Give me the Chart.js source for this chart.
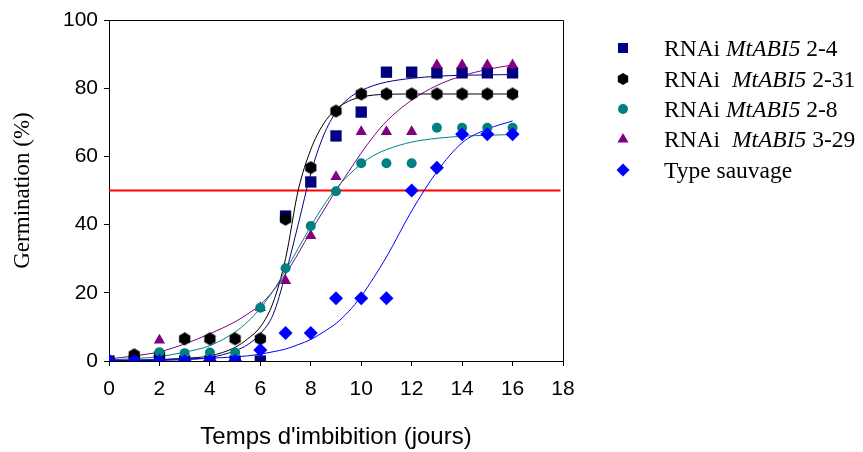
<!DOCTYPE html>
<html lang="fr">
<head>
    <meta charset="UTF-8">
    <title>Germination RNAi MtABI5</title>
    <script src="https://cdn.jsdelivr.net/npm/chart.js"></script>
    <style>
        body { margin: 0; background: #fff; }
        #wrap { position: relative; width: 863px; height: 452px; }
        #legend {
            position: absolute; left: 610px; top: 0;
            font-family: "Times New Roman", "Liberation Serif", serif;
            font-size: 23.5px; color: #000;
        }
        .row { position: absolute; left: 0; height: 30px; line-height: 30px; white-space: pre; }
        .row svg { position: absolute; left: 5px; top: 7px; }
        .row span.t { position: absolute; left: 54px; top: 0; }
    </style>
</head>
<body>
<div id="wrap">
    <canvas id="chart" width="863" height="452"></canvas>
    <div id="legend"></div>
</div>

<script>
    // measured points (days 0..16)
    const days = [0, 1, 2, 3, 4, 5, 6, 7, 8, 9, 10, 11, 12, 13, 14, 15, 16];
    const rnai24  = [0, 0, 0, 0, 0, 0, 0, 42.5, 52.5, 66, 73, 84.7, 84.7, 84.5, 84.5, 84.5, 84.5];
    const rnai231 = [0, 1.8, 1.8, 6.5, 6.5, 6.5, 6.5, 41.6, 56.7, 73.3, 78.3, 78.3, 78.3, 78.3, 78.3, 78.3, 78.3];
    const rnai28  = [0, 0, 2.6, 2.3, 2.5, 2.5, 15.6, 27.2, 39.6, 49.8, 58, 58, 58, 68.4, 68.4, 68.4, 68.4];
    const rnai329 = [0, 0, 6.1, 6.5, 6.5, 6.5, 15.6, 23.5, 36.7, 54, 67.2, 67.2, 67.2, 86.8, 86.8, 86.8, 86.8];
    const wildType = [0, 0, 0, 0, 0, 0, 3.2, 8.2, 8.2, 18.4, 18.4, 18.4, 50, 56.7, 66.5, 66.5, 66.5];

    // fitted sigmoid curves
    const fitX    = [0, 1, 2, 3, 4, 5, 5.5, 6, 6.5, 7, 7.5, 8, 8.5, 9, 9.5, 10, 10.5, 11, 12, 13, 14, 15, 16];
    const fit24   = [0.1, 0.1, 0.2, 0.4, 1, 3, 4.8, 8, 13.5, 25.5, 40, 55, 66, 73, 77, 79.3, 80.8, 81.8, 82.9, 83.5, 83.8, 83.9, 84];
    const fit231  = [0.1, 0.2, 0.4, 0.8, 1.5, 4, 6.5, 10, 17, 30, 50, 62, 69.5, 73.8, 76.2, 77.4, 78, 78.2, 78.3, 78.3, 78.3, 78.3, 78.3];
    const fit28   = [0.3, 0.7, 1.3, 2.6, 4.5, 8.5, 11.5, 15.5, 20.5, 26.5, 33, 39.5, 45.5, 50.5, 54.5, 57.8, 60.3, 62, 64.2, 65.3, 65.9, 66.2, 66.4];
    const fit329  = [0.6, 1.5, 2.7, 5, 8, 11.5, 13.8, 16.5, 20.5, 25.5, 31.5, 38, 44, 50, 55.5, 61, 66, 70.3, 76.5, 80.8, 83.6, 85.5, 86.8];
    const fitWild = [0.2, 0.3, 0.4, 0.6, 0.8, 1.2, 1.5, 2, 2.7, 3.5, 4.8, 6.3, 8.5, 11, 14.5, 19, 24.5, 30.5, 44, 55.5, 64, 68, 70.4];

    const refX = [0, 17.9];
    const refY = [50, 50];

    const xTicks = [0, 2, 4, 6, 8, 10, 12, 14, 16, 18];
    const yTicks = [0, 20, 40, 60, 80, 100];

    const series = [
        { name: ["RNAi ", "MtABI5", " 2-4"],  color: "#000080", shape: "square" },
        { name: ["RNAi  ", "MtABI5", " 2-31"], color: "#000000", shape: "hex" },
        { name: ["RNAi ", "MtABI5", " 2-8"],  color: "#008080", shape: "circle" },
        { name: ["RNAi  ", "MtABI5", " 3-29"], color: "#800080", shape: "triangle" },
        { name: ["Type sauvage", "", ""],      color: "#0000FF", shape: "diamond" }
    ];

    const pts = (xs, ys) => xs.map((x, i) => ({ x: x, y: ys[i] }));

    function hexImage(r, color) {
        const c = document.createElement("canvas");
        const s = Math.ceil(r * 2 + 2);
        c.width = s; c.height = s;
        const g = c.getContext("2d");
        g.fillStyle = color;
        g.beginPath();
        for (let k = 0; k < 6; k++) {
            const a = Math.PI / 2 + k * Math.PI / 3;
            const px = s / 2 + r * Math.cos(a), py = s / 2 + r * Math.sin(a);
            k === 0 ? g.moveTo(px, py) : g.lineTo(px, py);
        }
        g.closePath();
        g.fill();
        return c;
    }

    function markers(data, color, style, radius, order) {
        return {
            data: data, showLine: false, pointStyle: style, pointRadius: radius,
            pointHoverRadius: radius, backgroundColor: color, borderColor: color,
            borderWidth: 0, order: order
        };
    }

    function curve(data, color, order) {
        return {
            data: data, showLine: true, pointRadius: 0, borderColor: color,
            borderWidth: 1, cubicInterpolationMode: "monotone", fill: false, order: order
        };
    }

    const frame = {
        id: "frame",
        afterDraw(chart) {
            const a = chart.chartArea, ctx = chart.ctx;
            ctx.save();
            ctx.strokeStyle = "#000";
            ctx.lineWidth = 1;
            ctx.beginPath();
            ctx.moveTo(Math.round(a.left) + 0.5, Math.round(a.top) + 0.5);
            ctx.lineTo(Math.round(a.right) + 0.5, Math.round(a.top) + 0.5);
            ctx.lineTo(Math.round(a.right) + 0.5, Math.round(a.bottom) + 0.5);
            ctx.stroke();
            ctx.restore();
        }
    };

    const tickFont = { family: "Arial, 'Liberation Sans', sans-serif", size: 21 };

    new Chart(document.getElementById("chart"), {
        type: "scatter",
        data: {
            datasets: [
                markers(pts(days, wildType), "#0000FF", "rectRot", 7, 0),
                markers(pts(days, rnai28), "#008080", "circle", 5, 1),
                markers(pts(days, rnai231), "#000000", hexImage(6.5, "#000000"), 6.5, 2),
                markers(pts(days, rnai329), "#800080", "triangle", 6.5, 3),
                markers(pts(days, rnai24), "#000080", "rect", 8, 4),
                curve(pts(fitX, fitWild), "#0000FF", 10),
                curve(pts(fitX, fit28), "#008080", 11),
                curve(pts(fitX, fit231), "#000000", 12),
                curve(pts(fitX, fit329), "#800080", 13),
                curve(pts(fitX, fit24), "#000080", 14),
                { data: pts(refX, refY), showLine: true, pointRadius: 0, borderColor: "#FF0000", borderWidth: 2, order: 20 }
            ]
        },
        options: {
            responsive: false,
            animation: false,
            events: [],
            layout: { padding: { top: 20, right: 300, left: 0, bottom: 0 } },
            plugins: { legend: { display: false }, tooltip: { enabled: false } },
            scales: {
                x: {
                    type: "linear", min: 0, max: 18,
                    afterBuildTicks: s => { s.ticks = xTicks.map(v => ({ value: v })); },
                    afterFit: s => { s.height = 91; },
                    ticks: { font: tickFont, color: "#000", padding: 11, maxRotation: 0 },
                    grid: { drawOnChartArea: false, tickLength: 5, tickColor: "#000" },
                    border: { color: "#000", width: 1 },
                    title: {
                        display: true, text: "Temps d'imbibition (jours)", color: "#000",
                        font: { family: "Arial, 'Liberation Sans', sans-serif", size: 24 },
                        padding: { top: 0, bottom: 0 }
                    }
                },
                y: {
                    min: 0, max: 100,
                    afterBuildTicks: s => { s.ticks = yTicks.map(v => ({ value: v })); },
                    afterFit: s => { s.width = 109; },
                    ticks: { font: tickFont, color: "#000", padding: 6 },
                    grid: { drawOnChartArea: false, tickLength: 5, tickColor: "#000" },
                    border: { color: "#000", width: 1 },
                    title: {
                        display: true, text: "Germination (%)", color: "#000",
                        font: { family: "'Times New Roman', 'Liberation Serif', serif", size: 23 },
                        padding: { top: 9, bottom: 0 }
                    }
                }
            }
        },
        plugins: [frame]
    });

    // legend with italic gene name
    const legendY = [48, 79, 109, 139, 170];
    const legend = document.getElementById("legend");
    series.forEach((s, i) => {
        const row = document.createElement("div");
        row.className = "row";
        row.style.top = (legendY[i] - 15) + "px";
        let shape;
        if (s.shape === "square") shape = `<rect x="3" y="3" width="10" height="10" fill="${s.color}"/>`;
        else if (s.shape === "hex") shape = `<polygon points="8,2 13.2,5 13.2,11 8,14 2.8,11 2.8,5" fill="${s.color}"/>`;
        else if (s.shape === "circle") shape = `<circle cx="8" cy="8" r="5" fill="${s.color}"/>`;
        else if (s.shape === "triangle") shape = `<polygon points="8,2 13.5,11.5 2.5,11.5" fill="${s.color}"/>`;
        else shape = `<polygon points="8,1.5 14.5,8 8,14.5 1.5,8" fill="${s.color}"/>`;
        row.innerHTML = `<svg width="16" height="16">${shape}</svg><span class="t">${s.name[0]}<i>${s.name[1]}</i>${s.name[2]}</span>`;
        legend.appendChild(row);
    });
</script>
</body>
</html>
